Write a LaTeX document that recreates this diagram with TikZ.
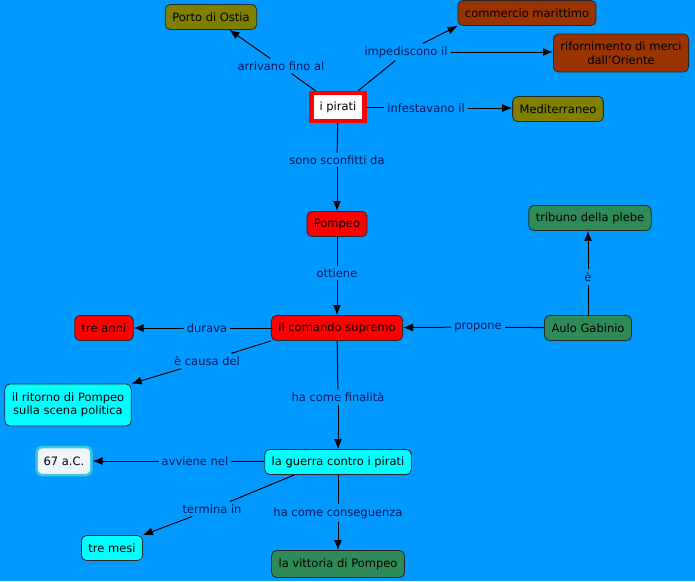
\documentclass[tikz,border=0pt]{standalone}
\usepackage{fontspec}
\setmainfont{DejaVu Sans}
\usepackage{tikz}
\usetikzlibrary{positioning,arrows.meta}

\definecolor{sfondo}{RGB}{0,153,255}
\definecolor{oliva}{RGB}{128,128,0}
\definecolor{mattone}{RGB}{153,51,0}
\definecolor{rosso}{RGB}{255,0,0}
\definecolor{verde}{RGB}{46,139,87}
\definecolor{ciano}{RGB}{0,255,255}
\definecolor{bianco}{RGB}{240,245,250}
\definecolor{bordoanno}{RGB}{60,200,220}
\definecolor{etichetta}{RGB}{0,25,90}
\definecolor{bordo}{RGB}{40,40,40}

\tikzset{
  concetto/.style={draw=bordo, line width=0.8pt, rounded corners=5pt, minimum height=25pt,
    inner xsep=7pt, font=\fontsize{11.5}{13.5}\selectfont, text=black, align=center},
  frase/.style={fill=sfondo, inner sep=2.5pt, text=etichetta,
    font=\fontsize{11.5}{13.5}\selectfont},
}

\begin{document}
\begin{tikzpicture}[x=1pt, y=-1pt, line width=1pt, >={Latex[length=10pt,width=8pt]}]
    \fill[sfondo] (0,0) rectangle (695,581);
    \useasboundingbox (0,0) rectangle (695,581);

    % concetti
    \node[concetto, fill=oliva](ostia) at (211,17) {Porto di Ostia};
    \node[concetto, fill=mattone](commercio) at (527,13) {commercio marittimo};
    \node[concetto, fill=mattone, minimum height=38pt](rifornimento) at (621,53) {rifornimento di merci\\dall'Oriente};
    \node[draw=rosso, line width=4.5pt, fill=white, minimum height=28pt, inner xsep=8pt,
          font=\fontsize{11.5}{13.5}\selectfont](pirati) at (338,107) {i pirati};
    \node[concetto, fill=oliva](mediterraneo) at (558,109) {Mediterraneo};
    \node[concetto, fill=rosso](pompeo) at (337,224) {Pompeo};
    \node[concetto, fill=verde](tribuno) at (590,218) {tribuno della plebe};
    \node[concetto, fill=rosso](comando) at (337,328) {il comando supremo};
    \node[concetto, fill=verde](aulo) at (588,328) {Aulo Gabinio};
    \node[concetto, fill=rosso](anni) at (104,328) {tre anni};
    \node[concetto, fill=ciano, minimum height=42pt](ritorno) at (68,405) {il ritorno di Pompeo\\sulla scena politica};
    \node[concetto, draw=bordoanno, line width=2.5pt, fill=bianco, minimum height=28pt](anno) at (64,461) {67 a.C.};
    \node[concetto, fill=ciano](guerra) at (338,462) {la guerra contro i pirati};
    \node[concetto, fill=ciano](mesi) at (112,548) {tre mesi};
    \node[concetto, fill=verde, minimum height=27pt](vittoria) at (338,564) {la vittoria di Pompeo};

    % frasi di collegamento
    \node[frase](arrivano) at (281,66) {arrivano fino al};
    \node[frase](impediscono) at (406,52) {impediscono il};
    \node[frase](infestavano) at (426,108) {infestavano il};
    \node[frase](sconfitti) at (337,160) {sono sconfitti da};
    \node[frase](ottiene) at (337,273) {ottiene};
    \node[frase](e) at (588,277) {è};
    \node[frase](propone) at (478,327) {propone};
    \node[frase](durava) at (207,328) {durava};
    \node[frase](causa) at (207,361) {è causa del};
    \node[frase](finalita) at (338,397) {ha come finalità};
    \node[frase](avviene) at (195,461) {avviene nel};
    \node[frase](termina) at (212,509) {termina in};
    \node[frase](conseguenza) at (338,513) {ha come conseguenza};

    \draw (pirati) -- (arrivano);
    \draw[->] (arrivano) -- (ostia);
    \draw (pirati) -- (impediscono);
    \draw[->] (impediscono) -- (commercio.south west);
    \draw[->] (impediscono) -- (impediscono -| rifornimento.west);
    \draw (pirati) -- (pirati -| infestavano.west);
    \draw[->] (infestavano) -- (infestavano -| mediterraneo.west);
    \draw (pirati) -- (sconfitti);
    \draw[->] (sconfitti) -- (pompeo);
    \draw (pompeo) -- (ottiene);
    \draw[->] (ottiene) -- (comando);
    \draw (aulo) -- (e);
    \draw[->] (e) -- (e |- tribuno.south);
    \draw (aulo) -- (propone);
    \draw[->] (propone) -- (comando);
    \draw (comando) -- (durava);
    \draw[->] (durava) -- (anni);
    \draw (comando.south west) -- (causa);
    \draw[->] (causa) -- (ritorno.north east);
    \draw (comando) -- (finalita);
    \draw[->] (finalita) -- (guerra);
    \draw (guerra) -- (avviene);
    \draw[->] (avviene) -- (anno);
    \draw (guerra.south west) ++(30,0) -- (termina);
    \draw[->] (termina) -- (mesi.north east);
    \draw (guerra) -- (conseguenza);
    \draw[->] (conseguenza) -- (vittoria);
\end{tikzpicture}
\end{document}
